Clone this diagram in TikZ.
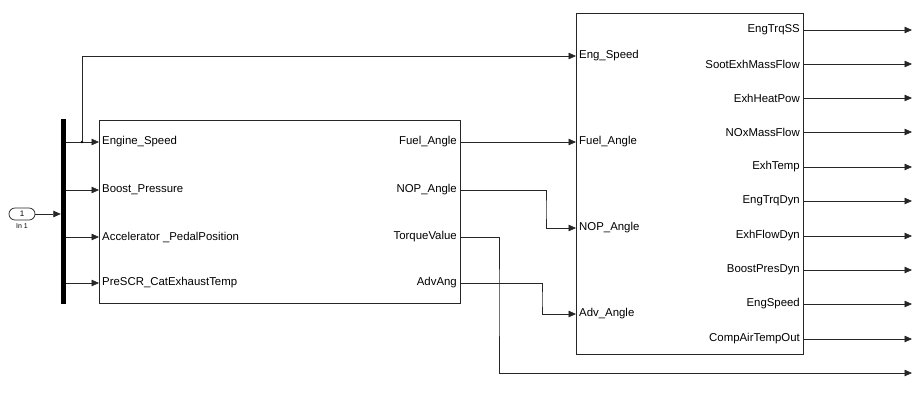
\documentclass[tikz,border=0pt]{standalone}
\usepackage{fontspec}
\setmainfont{Liberation Sans}
\usetikzlibrary{arrows.meta,shapes.misc}
\begin{document}
\begin{tikzpicture}[x=1pt,y=-1pt,
  wire/.style={draw=black!85,line width=0.75pt},
  arr/.style={wire,-{Triangle[length=7.5pt,width=6.5pt]}},
  blockbox/.style={draw=black!85,line width=0.8pt,fill=white,inner sep=0pt},
  inlab/.style={anchor=west,inner sep=0pt,font=\fontsize{11.4}{13}\selectfont},
  outlab/.style={anchor=east,inner sep=0pt,font=\fontsize{11.4}{13}\selectfont}]
\useasboundingbox (0,0) rectangle (912,394);
% inport
\node[draw=black!85,line width=0.75pt,rounded rectangle,minimum width=26pt,minimum height=12pt,inner sep=0pt,font=\fontsize{8}{9}\selectfont] (in1) at (22,214) {1};
\node[font=\fontsize{7}{8}\selectfont,inner sep=0pt] (in1lab) at (22,226) {In 1};
% bus
\node[fill=black,minimum width=5pt,minimum height=185pt,inner sep=0pt] (bus) at (63.5,211.5) {};
\draw[arr] (in1.east) -- (bus.west |- in1.east);
% block 1
\node[blockbox,minimum width=361pt,minimum height=183pt,anchor=north west] (b1) at (99,120) {};
% block 2
\node[blockbox,minimum width=227pt,minimum height=341pt,anchor=north west] (b2) at (576,13) {};
% block 1 ports
\foreach \n/\y/\t in {1/142/Engine\_Speed,2/190/Boost\_Pressure,3/237/Accelerator \_PedalPosition,4/283/PreSCR\_CatExhaustTemp}{
  \coordinate (b1i\n) at (99,\y);
  \node[inlab] (b1il\n) at (102,\y) {\t};
  \draw[arr] (bus.east |- b1i\n) -- (b1i\n);
}
\foreach \n/\y/\t in {1/142/Fuel\_Angle,2/190/NOP\_Angle,3/237/TorqueValue,4/283/AdvAng}{
  \coordinate (b1o\n) at (460,\y);
  \node[outlab] (b1ol\n) at (457,\y) {\t};
}
% block 2 ports
\foreach \n/\y/\t in {1/56/Eng\_Speed,2/142/Fuel\_Angle,3/228/NOP\_Angle,4/314/Adv\_Angle}{
  \coordinate (b2i\n) at (576,\y);
  \node[inlab] (b2il\n) at (579,\y) {\t};
}
\foreach \n/\y/\t in {1/30/EngTrqSS,2/64/SootExhMassFlow,3/98/ExhHeatPow,4/132/NOxMassFlow,5/167/ExhTemp,6/201/EngTrqDyn,7/236/ExhFlowDyn,8/270/BoostPresDyn,9/304/EngSpeed,10/339/CompAirTempOut}{
  \coordinate (b2o\n) at (803,\y);
  \coordinate (end\n) at (912,\y);
  \node[outlab] (b2ol\n) at (800,\y) {\t};
  \draw[arr] (b2o\n) -- (end\n);
}
% branch from Engine_Speed
\coordinate (br) at (82,142);
\fill (br) circle (1.3pt);
\draw[arr] (br) |- (b2i1);
% connections
\draw[arr] (b1o1) -- (b2i2);
\draw[arr] (b1o2) -| (546,210) |- (b2i3);
\draw[arr] (b1o4) -| (542,300) |- (b2i4);
\coordinate (endT) at (912,373);
\draw[arr] (b1o3) -| (499,300) |- (endT);
\end{tikzpicture}
\end{document}
